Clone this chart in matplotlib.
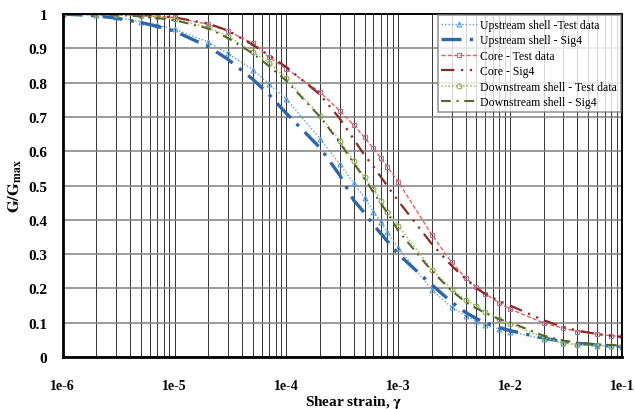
import matplotlib
matplotlib.use("Agg")
import matplotlib.pyplot as plt
from matplotlib.ticker import LogLocator, NullFormatter, FixedLocator
import numpy as np

# shear strain grid (same for every series)
strain = [1e-6, 2e-6, 3e-6, 5e-6, 7e-6, 1e-5, 2e-5, 3e-5, 5e-5, 7e-5,
          1e-4, 2e-4, 3e-4, 4e-4, 5e-4, 6e-4, 7e-4, 8e-4, 1e-3,
          2e-3, 3e-3, 4e-3, 5e-3, 6e-3, 8e-3, 1e-2,
          2e-2, 3e-2, 4e-2, 6e-2, 8e-2, 1e-1]

up_test   = [1.000, 0.997, 0.990, 0.978, 0.968, 0.956, 0.918, 0.885, 0.838, 0.796,
             0.752, 0.636, 0.563, 0.507, 0.464, 0.424, 0.393, 0.365, 0.318,
             0.195, 0.145, 0.120, 0.104, 0.093, 0.082, 0.074,
             0.052, 0.041, 0.037, 0.033, 0.031, 0.030]
up_sig4   = [1.000, 0.995, 0.988, 0.975, 0.964, 0.950, 0.905, 0.868, 0.810, 0.765,
             0.710, 0.610, 0.530, 0.457, 0.420, 0.385, 0.360, 0.337, 0.300,
             0.210, 0.160, 0.130, 0.112, 0.099, 0.086, 0.077,
             0.055, 0.045, 0.040, 0.035, 0.032, 0.030]
core_test = [1.000, 1.000, 0.999, 0.996, 0.993, 0.990, 0.970, 0.950, 0.915, 0.874,
             0.840, 0.772, 0.718, 0.676, 0.640, 0.608, 0.580, 0.554, 0.511,
             0.356, 0.276, 0.230, 0.205, 0.185, 0.157, 0.140,
             0.099, 0.084, 0.074, 0.067, 0.062, 0.060]
core_sig4 = [1.000, 1.000, 0.999, 0.997, 0.994, 0.990, 0.972, 0.952, 0.910, 0.880,
             0.845, 0.765, 0.695, 0.635, 0.588, 0.555, 0.525, 0.498, 0.455,
             0.329, 0.266, 0.228, 0.200, 0.184, 0.163, 0.150,
             0.107, 0.087, 0.077, 0.067, 0.062, 0.058]
down_test = [1.000, 0.999, 0.998, 0.995, 0.990, 0.985, 0.961, 0.935, 0.890, 0.858,
             0.812, 0.703, 0.631, 0.572, 0.524, 0.490, 0.456, 0.422, 0.383,
             0.255, 0.198, 0.167, 0.148, 0.132, 0.111, 0.097,
             0.057, 0.041, 0.036, 0.034, 0.033, 0.033]
down_sig4 = [1.000, 0.999, 0.997, 0.993, 0.988, 0.982, 0.958, 0.930, 0.885, 0.848,
             0.805, 0.700, 0.625, 0.565, 0.520, 0.480, 0.447, 0.420, 0.368,
             0.250, 0.193, 0.160, 0.142, 0.128, 0.110, 0.101,
             0.062, 0.048, 0.042, 0.037, 0.035, 0.034]

labels = ["Upstream shell -Test data", "Upstream shell - Sig4",
          "Core - Test data", "Core - Sig4",
          "Downstream shell - Test data", "Downstream shell - Sig4"]
x_ticks  = [1e-6, 1e-5, 1e-4, 1e-3, 1e-2, 1e-1]
x_labels = ["1e-6", "1e-5", "1e-4", "1e-3", "1e-2", "1e-1"]
y_ticks  = [0, 0.1, 0.2, 0.3, 0.4, 0.5, 0.6, 0.7, 0.8, 0.9, 1]
y_labels = ["0", "0.1", "0.2", "0.3", "0.4", "0.5", "0.6", "0.7", "0.8", "0.9", "1"]

plt.rcParams["font.family"] = ["Liberation Serif", "DejaVu Serif"]
plt.rcParams["mathtext.fontset"] = "stix"

fig = plt.figure(figsize=(6.35, 4.10), dpi=100)
ax  = fig.add_axes([0.0987, 0.1268, 0.8808, 0.8366])

ax.plot(strain, up_test, color="#5B9BD5", ls=(0, (1, 1.5)), lw=1.0,
        marker="^", ms=3.5, mfc="none", mec="#5B9BD5", mew=0.8, label=labels[0])
ax.plot(strain, up_sig4, color="#2F66A8", ls=(0, (6, 2.5, 1, 2.5)), lw=2.4,
        label=labels[1])
ax.plot(strain, core_test, color="#E0605E", ls=(0, (3, 1.5)), lw=1.0,
        marker="s", ms=3.5, mfc="none", mec="#B0709A", mew=0.8, label=labels[2])
ax.plot(strain, core_sig4, color="#8B2A2A", ls=(0, (6, 3, 1, 3, 1, 3)), lw=1.6,
        label=labels[3])
ax.plot(strain, down_test, color="#A6C46A", ls=(0, (1, 1.2)), lw=1.2,
        marker="o", ms=3.5, mfc="none", mec="#8AAA50", mew=0.8, label=labels[4])
ax.plot(strain, down_sig4, color="#4F6228", ls=(0, (5, 3, 1, 3)), lw=1.4,
        label=labels[5])

ax.set_xscale("log")
ax.set_xlim(1e-6, 1e-1)
ax.set_ylim(0, 1)
ax.xaxis.set_major_locator(FixedLocator(x_ticks))
ax.set_xticklabels(x_labels)
ax.xaxis.set_minor_locator(LogLocator(base=10, subs=np.arange(2, 10)))
ax.xaxis.set_minor_formatter(NullFormatter())
ax.set_yticks(y_ticks)
ax.set_yticklabels(y_labels)

ax.tick_params(axis="both", which="both", length=0)
ax.tick_params(axis="x", pad=16, labelsize=10)
ax.tick_params(axis="y", pad=11, labelsize=11)
for t in ax.get_xticklabels() + ax.get_yticklabels():
    t.set_fontweight("bold")

ax.grid(True, axis="x", which="both", color="#333333", lw=0.7)
ax.grid(True, axis="y", which="major", color="#808080", lw=1.1)
ax.set_axisbelow(True)

for side in ["left", "bottom"]:
    ax.spines[side].set_linewidth(2.0)
for side in ["top", "right"]:
    ax.spines[side].set_linewidth(1.4)

ax.set_xlabel(r"Shear strain, $\mathbf{\gamma}$", fontsize=11, fontweight="bold")
ax.xaxis.set_label_coords(0.52, -0.105)
ax.set_ylabel(r"$\mathbf{G/G_{max}}$", fontsize=12)
ax.yaxis.set_label_coords(-0.07, 0.5)

leg = ax.legend(loc="upper right", bbox_to_anchor=(1.0, 1.0), fontsize=8.5,
                frameon=True, fancybox=False, edgecolor="#808080",
                handlelength=3.0, handletextpad=0.3, labelspacing=0.3,
                borderpad=0.3, borderaxespad=0.1)
leg.get_frame().set_linewidth(1.2)

fig.savefig("out.png", dpi=100)
